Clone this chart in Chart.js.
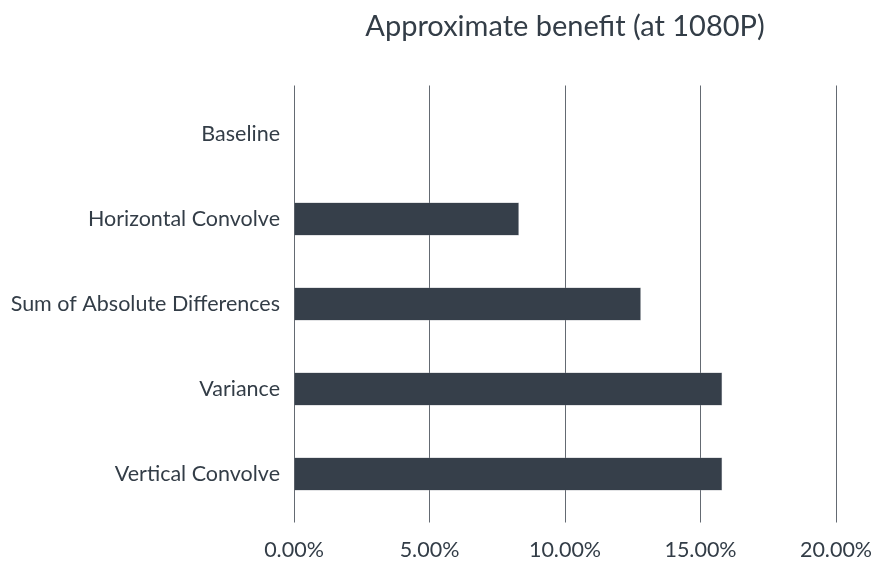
<!DOCTYPE html>
<html>
<head>
<meta charset="utf-8">
<script src="https://cdn.jsdelivr.net/npm/chart.js@4"></script>
<style>
  body { margin: 0; background: #fff; }
  #wrap { width: 875px; height: 562px; }
</style>
</head>
<body>
<div id="wrap"><canvas id="mainChart" width="875" height="562"></canvas></div>
<script>
const categories = ['Baseline', 'Horizontal Convolve', 'Sum of Absolute Differences', 'Variance', 'Vertical Convolve']
const benefit = [0, 8.3, 12.8, 15.8, 15.8]
const tickValues = [0, 5, 10, 15, 20]

const textColor = '#333d47'
const gridColor = '#646a72'

new Chart(document.getElementById('mainChart'), {
    type: 'bar',
    data: {
        labels: categories,
        datasets: [{
            data: benefit,
            backgroundColor: '#363f4a',
            borderColor: '#8a9099',
            borderWidth: 0.5,
            categoryPercentage: 1,
            barPercentage: 0.39,
            xAxisID: 'x'
        }]
    },
    options: {
        indexAxis: 'y',
        responsive: false,
        animation: false,
        layout: {
            padding: { left: 10, right: 0, top: 0, bottom: 0 }
        },
        plugins: {
            legend: { display: false },
            tooltip: { enabled: false }
        },
        scales: {
            x: {
                position: 'bottom',
                min: 0,
                max: 20,
                afterBuildTicks: (axis) => {
                    axis.ticks = tickValues.map(v => ({ value: v }))
                },
                afterFit: (axis) => {
                    axis.height = 45.5
                    axis.paddingLeft = 0
                    axis.paddingRight = 39
                },
                grid: {
                    color: gridColor,
                    lineWidth: 1,
                    drawTicks: true,
                    tickLength: 6
                },
                border: { display: false },
                ticks: {
                    color: textColor,
                    font: { family: 'Lato', size: 21.5 },
                    padding: 15,
                    callback: (v) => v.toFixed(2) + '%'
                }
            },
            // top axis only carries the title (centred over the plot) and the short grid stubs
            xTop: {
                type: 'linear',
                position: 'top',
                min: 0,
                max: 20,
                afterBuildTicks: (axis) => {
                    axis.ticks = tickValues.map(v => ({ value: v }))
                },
                afterFit: (axis) => {
                    axis.height = 91.5
                    axis.paddingLeft = 0
                    axis.paddingRight = 0
                },
                grid: {
                    color: gridColor,
                    lineWidth: 1,
                    drawOnChartArea: false,
                    drawTicks: true,
                    tickLength: 6
                },
                border: { display: false },
                ticks: { display: false },
                title: {
                    display: true,
                    text: 'Approximate benefit (at 1080P)',
                    color: textColor,
                    font: { family: 'Lato', size: 29 },
                    padding: { top: 9, bottom: 0 }
                }
            },
            y: {
                afterFit: (axis) => {
                    axis.width = 284
                    axis.paddingTop = 0
                    axis.paddingBottom = 0
                },
                grid: { display: false, drawTicks: false },
                border: { display: false },
                ticks: {
                    color: textColor,
                    font: { family: 'Lato', size: 21.5 },
                    padding: 14
                }
            }
        }
    }
})
</script>
</body>
</html>
